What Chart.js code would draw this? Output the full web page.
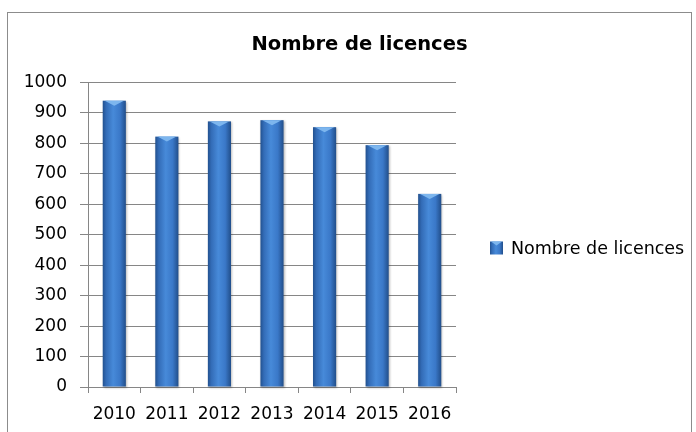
<!DOCTYPE html>
<html>
<head>
<meta charset="utf-8">
<script src="https://cdn.jsdelivr.net/npm/chart.js@4.4.1/dist/chart.umd.min.js"></script>
<style>
  html, body { margin: 0; padding: 0; background: #fff; overflow: hidden; }
  #frame { position: absolute; left: 7px; top: 12px; width: 683px; height: 440px; border: 1px solid #8c8c8c; }
  #wrap { position: absolute; left: 0; top: 0; width: 696px; height: 432px; }
</style>
</head>
<body>
<div id="frame"></div>
<div id="wrap"><canvas id="licencesChart"></canvas></div>
<script>
const years = ['2010', '2011', '2012', '2013', '2014', '2015', '2016'];
const licences = [940, 822, 872, 876, 853, 794, 634];
const seriesName = 'Nombre de licences';
const yTicks = [0, 100, 200, 300, 400, 500, 600, 700, 800, 900, 1000];

function cylinder(ctx, l, r) {
    const g = ctx.createLinearGradient(l, 0, r, 0);
    g.addColorStop(0, '#22518f');
    g.addColorStop(0.15, '#336cb7');
    g.addColorStop(0.45, '#478ad9');
    g.addColorStop(0.75, '#3a78c8');
    g.addColorStop(1, '#214e8a');
    return g;
}

// cylinder shading + light bevel on top of each bar
const barShade = {
    id: 'barShade',
    afterDatasetsDraw(chart) {
        const ctx = chart.ctx;
        chart.getDatasetMeta(0).data.forEach(bar => {
            const { x, y, base, width } = bar.getProps(['x', 'y', 'base', 'width'], true);
            const l = x - width / 2, r = x + width / 2;
            ctx.save();
            ctx.shadowColor = 'rgba(0,0,0,0.25)';
            ctx.shadowOffsetX = 1;
            ctx.shadowOffsetY = 1;
            ctx.shadowBlur = 2;
            ctx.fillStyle = cylinder(ctx, l, r);
            ctx.fillRect(l, y, width, base - y);
            ctx.restore();
            ctx.save();
            ctx.fillStyle = '#7db6ee';
            ctx.beginPath();
            ctx.moveTo(l + 2, y);
            ctx.lineTo(r - 2, y);
            ctx.lineTo(x, y + 5);
            ctx.closePath();
            ctx.fill();
            ctx.restore();
        });
    }
};

// legend on the right, in the space kept by the empty y2 box
const sideLegend = {
    id: 'sideLegend',
    afterDraw(chart) {
        const ctx = chart.ctx;
        const bx = chart.chartArea.right + 34, cy = 248, s = 13;
        ctx.save();
        ctx.fillStyle = cylinder(ctx, bx, bx + s);
        ctx.fillRect(bx, cy - s / 2, s, s);
        ctx.fillStyle = '#7db6ee';
        ctx.beginPath();
        ctx.moveTo(bx + 1, cy - s / 2);
        ctx.lineTo(bx + s - 1, cy - s / 2);
        ctx.lineTo(bx + s / 2, cy - s / 2 + 4);
        ctx.closePath();
        ctx.fill();
        ctx.fillStyle = '#000';
        ctx.font = '17.5px "DejaVu Sans"';
        ctx.textBaseline = 'middle';
        ctx.fillText(chart.data.datasets[0].label, bx + s + 8, cy + 1);
        ctx.restore();
    }
};

new Chart(document.getElementById('licencesChart'), {
    type: 'bar',
    data: {
        labels: years,
        datasets: [{
            label: seriesName,
            data: licences,
            backgroundColor: 'rgba(0,0,0,0)',
            borderWidth: 0,
            categoryPercentage: 1,
            barPercentage: 0.44
        }]
    },
    options: {
        responsive: true,
        maintainAspectRatio: false,
        animation: false,
        layout: { padding: { left: 23, right: 0, top: 21, bottom: 0 } },
        plugins: {
            title: {
                display: true,
                text: seriesName,
                color: '#000',
                font: { family: 'DejaVu Sans', size: 19.5, weight: 'bold' },
                padding: { top: 12, bottom: 26 }
            },
            legend: { display: false },
            tooltip: { enabled: false }
        },
        scales: {
            x: {
                afterFit: axis => { axis.height = 45; },
                grid: { display: true, drawOnChartArea: false, drawTicks: true, tickLength: 6, color: '#868686', offset: true },
                border: { color: '#868686' },
                ticks: { color: '#000', font: { family: 'DejaVu Sans', size: 17 }, padding: 11, maxRotation: 0 }
            },
            y: {
                min: 0,
                max: 1000,
                afterBuildTicks: axis => { axis.ticks = yTicks.map(v => ({ value: v })); },
                afterFit: axis => { axis.width = 65; },
                grid: { color: '#868686', tickLength: 8 },
                border: { color: '#868686' },
                ticks: { color: '#000', font: { family: 'DejaVu Sans', size: 17 }, padding: 13, callback: v => String(v) }
            },
            y2: {
                position: 'right',
                afterFit: axis => { axis.width = 240; },
                grid: { display: false },
                border: { display: false },
                ticks: { display: false }
            }
        }
    },
    plugins: [barShade, sideLegend]
});
</script>
</body>
</html>
